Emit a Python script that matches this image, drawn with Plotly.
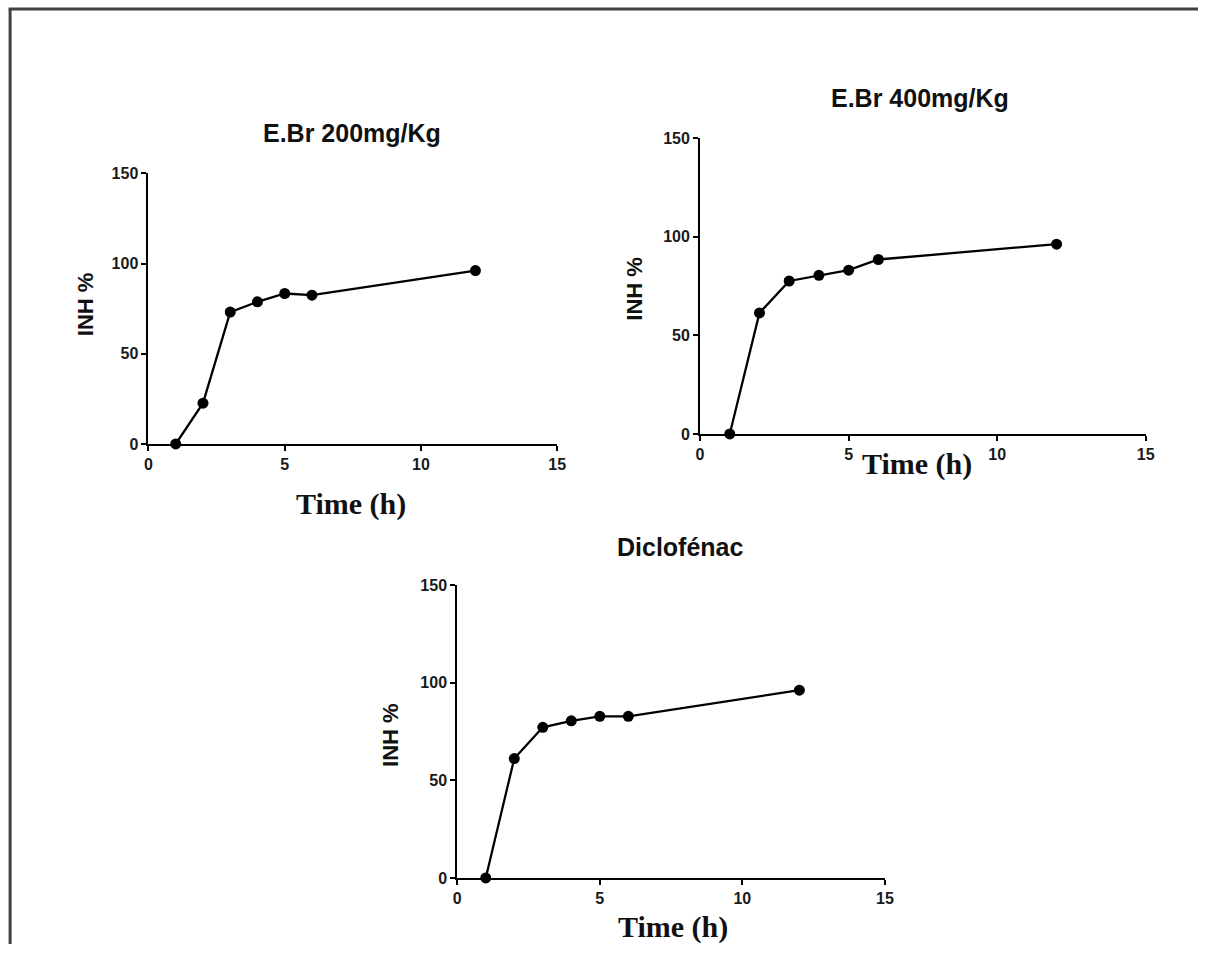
import plotly.graph_objects as go

W, H = 1207, 953

time_h = [1, 2, 3, 4, 5, 6, 12]
inh_ebr200 = [0, 22.6, 73.1, 78.8, 83.4, 82.5, 96.1]
inh_ebr400 = [0, 61.4, 77.6, 80.5, 83.1, 88.5, 96.3]
inh_diclo = [0, 61.2, 77.2, 80.5, 82.8, 82.8, 96.2]

titles = ["E.Br 200mg/Kg", "E.Br 400mg/Kg", "Diclofénac"]
series = [inh_ebr200, inh_ebr400, inh_diclo]
x_ticks = [0, 5, 10, 15]
y_ticks = [0, 50, 100, 150]

# target pixel boxes in the final picture: (left, right, top, bottom)
boxes = [(148, 557, 175, 445), (700, 1146, 140, 435), (457, 885, 586, 878)]
title_pos = [(352, 135), (920, 100), (680, 548)]
ytitle_pos = [(85, 306), (635, 290), (390, 735)]
xtitle_pos = [(351, 505), (917, 465), (673, 927)]

# compensation for how the page is captured (measured offset / scale)
AX, SX, AY, SY = 3.4, 0.99, 10.0, 0.98


def px(x):
    return ((x - AX) / SX) / W


def py(y):
    return 1 - ((y - AY) / SY) / H


fig = go.Figure()
annotations = []
for i, (ys, (l, r, t, b)) in enumerate(zip(series, boxes)):
    n = "" if i == 0 else str(i + 1)
    fig.add_trace(go.Scatter(
        x=time_h, y=ys, mode="lines+markers",
        line=dict(color="black", width=2.3),
        marker=dict(color="black", size=11),
        xaxis="x" + n, yaxis="y" + n, showlegend=False, cliponaxis=False))
    common = dict(showline=True, linecolor="black", linewidth=2, ticks="outside",
                  ticklen=5, tickwidth=2, tickcolor="black", showgrid=False,
                  zeroline=False, fixedrange=True,
                  tickfont=dict(family="Arial", size=16, color="#1a1a1a", weight="bold"))
    fig.layout["xaxis" + n] = dict(domain=[px(l), px(r)], range=[0, 15],
                                   tickvals=x_ticks, anchor="y" + n, **common)
    fig.layout["yaxis" + n] = dict(domain=[py(b), py(t)], range=[0, 150],
                                   tickvals=y_ticks, anchor="x" + n, **common)
    tx, ty = title_pos[i]
    annotations.append(dict(x=px(tx), y=py(ty), xref="paper", yref="paper",
                            text="<b>%s</b>" % titles[i], showarrow=False,
                            xanchor="center", yanchor="middle",
                            font=dict(family="Arial", size=25, color="#111")))
    yx, yy = ytitle_pos[i]
    annotations.append(dict(x=px(yx), y=py(yy), xref="paper", yref="paper",
                            text="<b>INH %</b>", showarrow=False, textangle=-90,
                            xanchor="center", yanchor="middle",
                            font=dict(family="Arial", size=22, color="#111")))
    xx, xy = xtitle_pos[i]
    annotations.append(dict(x=px(xx), y=py(xy), xref="paper", yref="paper",
                            text="<b>Time (h)</b>", showarrow=False,
                            xanchor="center", yanchor="middle",
                            font=dict(family="Liberation Serif", size=30, color="#111")))

shapes = [
    dict(type="line", xref="paper", yref="paper", x0=px(8), x1=1, y0=py(11), y1=py(11),
         line=dict(color="#404040", width=3)),
    dict(type="line", xref="paper", yref="paper", x0=px(9.5), x1=px(9.5), y0=0, y1=py(11),
         line=dict(color="#404040", width=3)),
]

fig.update_layout(
    width=W, height=H, margin=dict(l=0, r=0, t=0, b=0),
    paper_bgcolor="white", plot_bgcolor="white",
    annotations=annotations, shapes=shapes,
)

fig.write_html("out.html", config={"displayModeBar": False},
               post_script="document.body.style.margin='0';document.body.style.overflow='hidden';")
